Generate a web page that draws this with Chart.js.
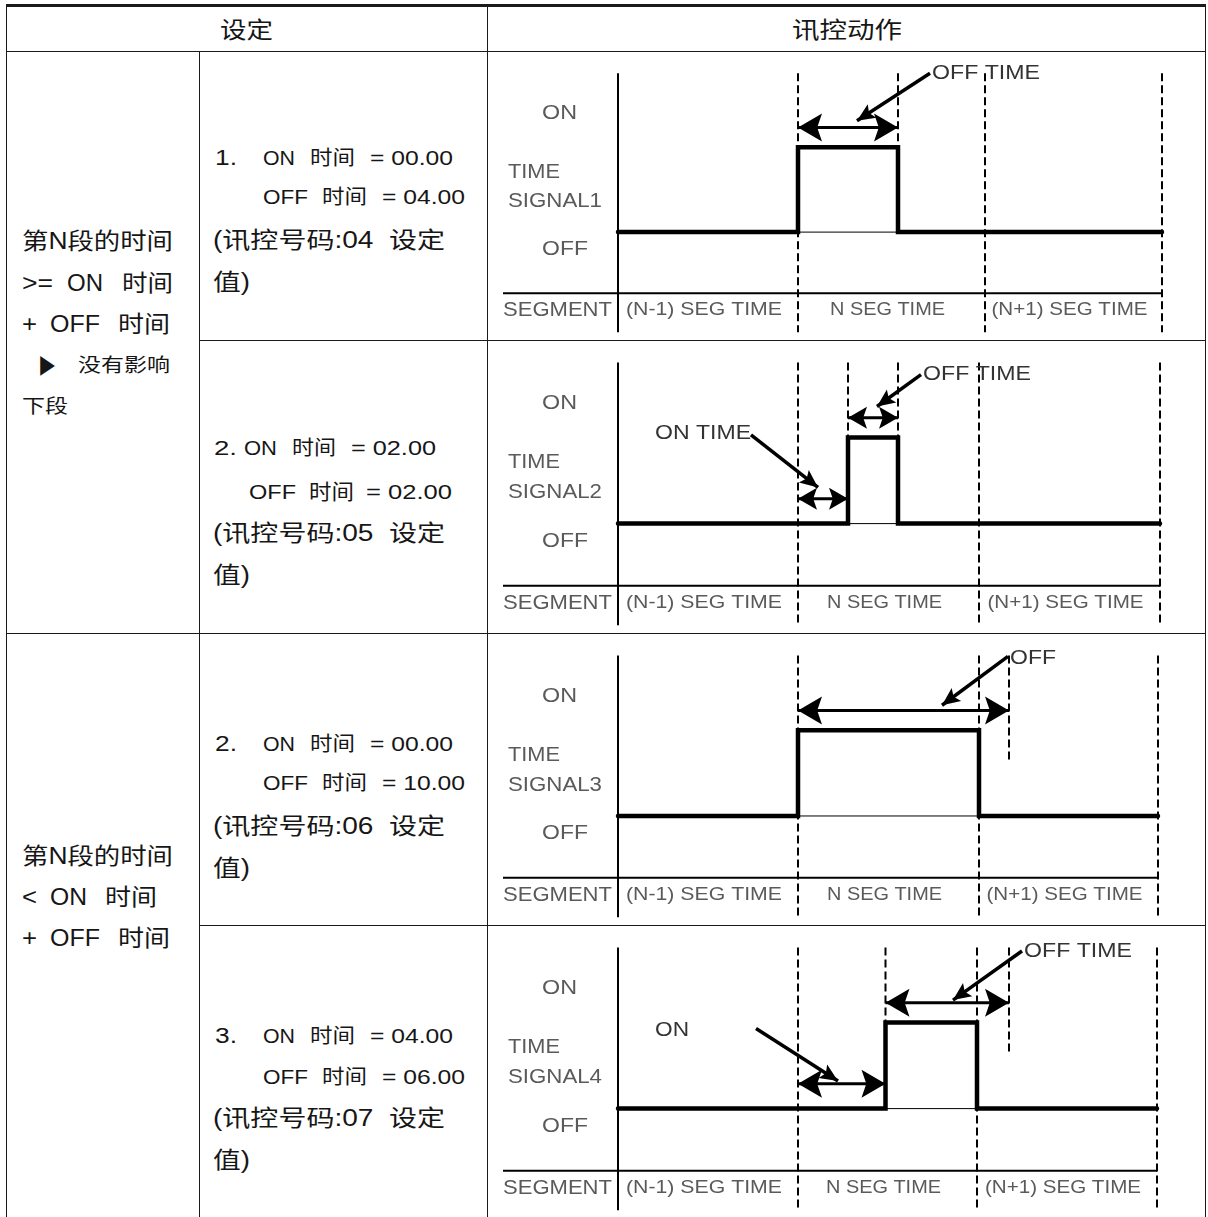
<!DOCTYPE html>
<html>
<head>
<meta charset="utf-8">
<script src="https://cdn.jsdelivr.net/npm/chart.js@4.4.1/dist/chart.umd.min.js"></script>
<style>
  body { margin: 0; background: #fff; width: 1208px; height: 1217px; overflow: hidden; position: relative; }
  .ln { position: absolute; background: #1a1a1a; }
  .t { position: absolute; white-space: pre; line-height: 30px; height: 30px; transform-origin: 0 50%; color: #161616;
       font-family: "Liberation Sans", "Noto Sans CJK SC", sans-serif; }
  canvas { position: absolute; }
</style>
</head>
<body>
<script>
// table text
const itemNo = ['1.', '2.', '2.', '3.']
const onSet = ['00.00', '02.00', '00.00', '04.00']
const offSet = ['04.00', '02.00', '10.00', '06.00']
const codes = ['04', '05', '06', '07']

// diagram values, time axis with segment N starting at 0
const segNames = ['(N-1) SEG TIME', 'N SEG TIME', '(N+1) SEG TIME']
const signalNames = ['SIGNAL1', 'SIGNAL2', 'SIGNAL3', 'SIGNAL4']
const segStart = [-7.2, -7.2, -7.2, -7.2]
const segNEnd = [7.48, 7.24, 7.24, 7.16]
const segLast = [14.56, 14.48, 14.4, 14.36]
const onAt = [0, 2, 0, 3.5]
const offAt = [4, 4, 7.24, 7.16]
const offTimeEnd = [4, 4, 8.44, 8.44]

// ---------- table ----------
const rowTops = [51, 340, 633, 925]
const rowBots = [340, 633, 925, 1218]

function box(x, y, w, h) {
  const d = document.createElement('div')
  d.className = 'ln'
  Object.assign(d.style, { left: x + 'px', top: y + 'px', width: w + 'px', height: h + 'px' })
  document.body.appendChild(d)
}
box(6, 4, 1200, 3)
box(6, 51, 1200, 1)
box(199, 340, 1007, 1)
box(6, 633, 1200, 1)
box(199, 925, 1007, 1)
box(6, 4, 1, 1213)
box(199, 51, 1, 1166)
box(487, 4, 1, 1213)
box(1205, 4, 1, 1213)

function put(text, x0, x1, y, size) {
  const s = document.createElement('div')
  s.className = 't'
  s.textContent = text
  s.style.fontSize = size + 'px'
  s.style.left = x0 + 'px'
  s.style.top = (y - 15) + 'px'
  document.body.appendChild(s)
  const w = s.getBoundingClientRect().width
  s.style.transform = 'scaleX(' + ((x1 - x0) / w) + ')'
}

put('设定', 220, 273, 30, 23)
put('讯控动作', 792, 902, 30, 23)

put('第N段的时间', 22, 173, 241, 23)
put('>=', 22, 53, 283, 23); put('ON', 67, 103, 283, 23); put('时间', 122, 173, 283, 23)
put('+', 22, 37, 324, 23); put('OFF', 50, 100, 324, 23); put('时间', 118, 170, 324, 23)
put('▶', 38, 56, 366, 21); put('没有影响', 78, 170, 366, 19)
put('下段', 22, 68, 407, 19)

put('第N段的时间', 22, 173, 856, 23)
put('<', 22, 37, 897, 23); put('ON', 50, 87, 897, 23); put('时间', 105, 157, 897, 23)
put('+', 22, 37, 938, 23); put('OFF', 50, 100, 938, 23); put('时间', 118, 170, 938, 23)

const rowY = [[158, 197, 240, 282], [448, 492, 533, 575], [744, 783, 826, 868], [1036, 1077, 1118, 1160]]
rowY.forEach((ys, i) => {
  if (i === 1) {
    put(itemNo[i], 214, 237, ys[0], 20); put('ON', 244, 277, ys[0], 20)
    put('时间', 292, 336, ys[0], 20); put('= ' + onSet[i], 351, 436, ys[0], 20)
    put('OFF', 249, 296, ys[1], 21); put('时间', 309, 354, ys[1], 21); put('= ' + offSet[i], 366, 452, ys[1], 21)
  } else {
    put(itemNo[i], 215, 237, ys[0], 22); put('ON', 263, 295, ys[0], 20)
    put('时间', 310, 355, ys[0], 20); put('= ' + onSet[i], 370, 453, ys[0], 20)
    put('OFF', 263, 308, ys[1], 20); put('时间', 322, 367, ys[1], 20); put('= ' + offSet[i], 382, 465, ys[1], 20)
  }
  put('(讯控号码:' + codes[i] + '  设定', 213, 445, ys[2], 23)
  put('值)', 213, 250, ys[3], 23)
})

// ---------- diagrams ----------
const AX_TOP = 1.87, AX_BOT = -1.18, SEG_Y = -0.72, SEG_LEFT = -11.8
const OFF_MARK = 0.64, ON_ARROW_Y = 0.29, OFF_ARROW_Y = 1.23

const callouts = [
  [{ text: 'OFF TIME', x0: 5.36, x1: 9.68, y: 1.87, from: [5.28, 1.87], to: [2.36, 1.31] }],
  [{ text: 'ON TIME', x0: -5.72, x1: -1.88, y: 1.05, from: [-1.88, 1.03], to: [0.8, 0.42] },
   { text: 'OFF TIME', x0: 5.0, x1: 9.32, y: 1.73, from: [4.92, 1.73], to: [3.16, 1.36] }],
  [{ text: 'OFF', x0: 8.48, x1: 10.32, y: 1.84, from: [8.4, 1.86], to: [5.76, 1.29] }],
  [{ text: 'OFF TIME', x0: 9.04, x1: 13.36, y: 1.83, from: [8.96, 1.83], to: [6.2, 1.26] },
   { text: 'ON', x0: -5.72, x1: -4.36, y: 0.91, from: [-1.68, 0.93], to: [1.6, 0.32] }]
]
const segLabelW = [6.24, 4.6, 6.24]

signalNames.forEach((name, i) => {
  const cv = document.createElement('canvas')
  cv.width = 717
  cv.height = rowBots[i] - rowTops[i] - 1
  cv.style.left = '488px'
  cv.style.top = (rowTops[i] + 1) + 'px'
  document.body.appendChild(cv)

  const s0 = segStart[i], s1 = segNEnd[i], s2 = segLast[i]
  const pt = (x, y) => ({ x, y })
  const seg = (pts, style) => Object.assign({ data: pts, showLine: true, pointRadius: 0, borderColor: '#000', borderWidth: 2 }, style)
  const dashed = { borderDash: [8, 4], borderWidth: 2 }

  const sets = [
    seg([pt(s0, 0), pt(onAt[i], 0), pt(onAt[i], 1), pt(offAt[i], 1), pt(offAt[i], 0), pt(s2, 0)],
      { borderWidth: 4.5, borderCapStyle: 'round', borderJoinStyle: 'miter' }),
    seg([pt(onAt[i], 0), pt(offAt[i], 0)], { borderWidth: 1 }),
    seg([pt(s0, AX_TOP), pt(s0, AX_BOT)]),
    seg([pt(SEG_LEFT, SEG_Y), pt(s2, SEG_Y)]),
    seg([pt(0, AX_TOP), pt(0, AX_BOT)], dashed),
    seg([pt(s1, AX_TOP), pt(s1, AX_BOT)], dashed),
    seg([pt(s2, AX_TOP), pt(s2, AX_BOT)], dashed)
  ]
  ;[onAt[i], offAt[i]].forEach(x => {
    if (x !== 0 && x !== s1) sets.push(seg([pt(x, AX_TOP), pt(x, 1)], dashed))
  })
  if (offTimeEnd[i] !== offAt[i]) sets.push(seg([pt(offTimeEnd[i], AX_TOP), pt(offTimeEnd[i], OFF_MARK)], dashed))
  sets.push(seg([pt(onAt[i], OFF_ARROW_Y), pt(offTimeEnd[i], OFF_ARROW_Y)], { borderWidth: 3, heads: 'both' }))
  if (onAt[i] > 0) sets.push(seg([pt(0, ON_ARROW_Y), pt(onAt[i], ON_ARROW_Y)], { borderWidth: 3, heads: 'both' }))
  callouts[i].forEach(c => {
    sets.push(seg([pt(c.from[0], c.from[1]), pt(c.to[0], c.to[1])], { borderWidth: 3.5, heads: 'end', small: true }))
  })

  const gray = '#5a5a5a'
  const labels = [
    { text: 'ON', x0: -10.24, x1: -8.84, y: 1.40, size: 21, color: gray },
    { text: 'TIME', x0: -11.6, x1: -9.52, y: 0.71, size: 21, color: gray },
    { text: name, x0: -11.6, x1: -7.84, y: 0.36, size: 21, color: gray },
    { text: 'OFF', x0: -10.24, x1: -8.4, y: -0.2, size: 21, color: gray },
    { text: 'SEGMENT', x0: -11.8, x1: -7.44, y: -0.92, size: 21, color: gray }
  ]
  const edges = [s0, 0, s1, s2]
  segNames.forEach((n, j) => {
    const m = (edges[j] + edges[j + 1]) / 2 - 0.16
    labels.push({ text: n, x0: m - segLabelW[j] / 2, x1: m + segLabelW[j] / 2, y: -0.92, size: 19, color: gray })
  })
  callouts[i].forEach(c => labels.push({ text: c.text, x0: c.x0, x1: c.x1, y: c.y, size: 21, color: '#333' }))

  new Chart(cv, {
    type: 'scatter',
    data: { datasets: sets },
    options: {
      responsive: false,
      animation: false,
      events: [],
      layout: { padding: 0 },
      plugins: { legend: { display: false }, tooltip: { enabled: false } },
      scales: {
        x: { type: 'linear', min: -12.4, max: 16.28, display: false },
        y: { type: 'linear', min: -1.27, max: 2.12, display: false }
      }
    },
    plugins: [{
      id: 'marks',
      afterDatasetsDraw(chart) {
        const ctx = chart.ctx, xs = chart.scales.x, ys = chart.scales.y
        chart.data.datasets.forEach((d, k) => {
          if (!d.heads) return
          const p = chart.getDatasetMeta(k).data
          const span = Math.hypot(p[p.length - 1].x - p[0].x, p[p.length - 1].y - p[0].y)
          let L = 24, W = 14
          if (d.small) { L = 18; W = 8 } else if (span < 70) { L = 19; W = 11 }
          const head = (tip, from) => {
            const a = Math.atan2(tip.y - from.y, tip.x - from.x)
            ctx.save()
            ctx.translate(tip.x, tip.y)
            ctx.rotate(a)
            ctx.beginPath()
            ctx.moveTo(0, 0)
            ctx.lineTo(-L, -W)
            ctx.lineTo(-L * 0.8, 0)
            ctx.lineTo(-L, W)
            ctx.closePath()
            ctx.fillStyle = '#000'
            ctx.fill()
            ctx.restore()
          }
          if (d.heads === 'both') head(p[0], p[1])
          head(p[p.length - 1], p[p.length - 2])
        })
        labels.forEach(t => {
          ctx.save()
          ctx.font = t.size + 'px "Liberation Sans", sans-serif'
          ctx.fillStyle = t.color
          ctx.textBaseline = 'middle'
          const x0 = xs.getPixelForValue(t.x0), x1 = xs.getPixelForValue(t.x1)
          const w = ctx.measureText(t.text).width
          ctx.translate(x0, ys.getPixelForValue(t.y))
          ctx.scale((x1 - x0) / w, 1)
          ctx.fillText(t.text, 0, 0)
          ctx.restore()
        })
      }
    }]
  })
})
</script>
</body>
</html>
